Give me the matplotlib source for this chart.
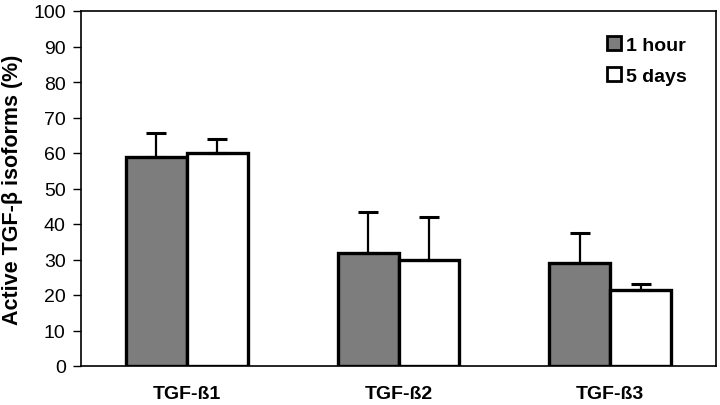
import numpy as np
import matplotlib
matplotlib.use('Agg')
import matplotlib.pyplot as plt

plt.rcParams['font.family'] = ['Liberation Sans', 'DejaVu Sans']

categories = ['TGF-ß1', 'TGF-ß2', 'TGF-ß3']
hour_1 = [59.0, 31.8, 29.0]
hour_1_err = [6.7, 11.6, 8.5]
days_5 = [59.9, 29.9, 21.5]
days_5_err = [4.0, 12.0, 1.7]
series_labels = ['1 hour', '5 days']

fig = plt.figure(figsize=(7.2, 4.06), dpi=100)
ax = fig.add_axes([81 / 720, 1 - 367 / 406, 635 / 720, 355 / 406])

x = np.arange(len(categories))
w = 0.288
err_kw = dict(elinewidth=1.6, capsize=7.5, capthick=2.2, ecolor='black')
ax.bar(x - w / 2, hour_1, w, color='#7d7d7d', edgecolor='black', linewidth=2.4,
       yerr=[np.zeros(3), hour_1_err], error_kw=err_kw, label=series_labels[0], zorder=2)
ax.bar(x + w / 2, days_5, w, color='white', edgecolor='black', linewidth=2.4,
       yerr=[np.zeros(3), days_5_err], error_kw=err_kw, label=series_labels[1], zorder=2)

ax.set_xlim(-0.5, 2.5)
ax.set_ylim(0, 100)
ax.set_yticks(np.arange(0, 101, 10))
ax.tick_params(axis='y', direction='out', length=6, width=1, labelsize=14, pad=5)
ax.tick_params(axis='x', length=0, labelsize=14, pad=14)
ax.set_xticks(x)
ax.set_xticklabels(categories, fontweight='bold')
ax.set_ylabel('Active TGF-β isoforms (%)', fontsize=15.5, fontweight='bold', labelpad=7)
for s in ax.spines.values():
    s.set_linewidth(1.2)

leg = ax.legend(loc='upper right', bbox_to_anchor=(0.982, 0.98), frameon=False,
                prop={'weight': 'bold', 'size': 14}, handlelength=0.75, handleheight=0.75,
                handletextpad=0.25, labelspacing=0.7)
for h in leg.legend_handles:
    h.set_linewidth(2)

fig.savefig('out.png', dpi=100)
